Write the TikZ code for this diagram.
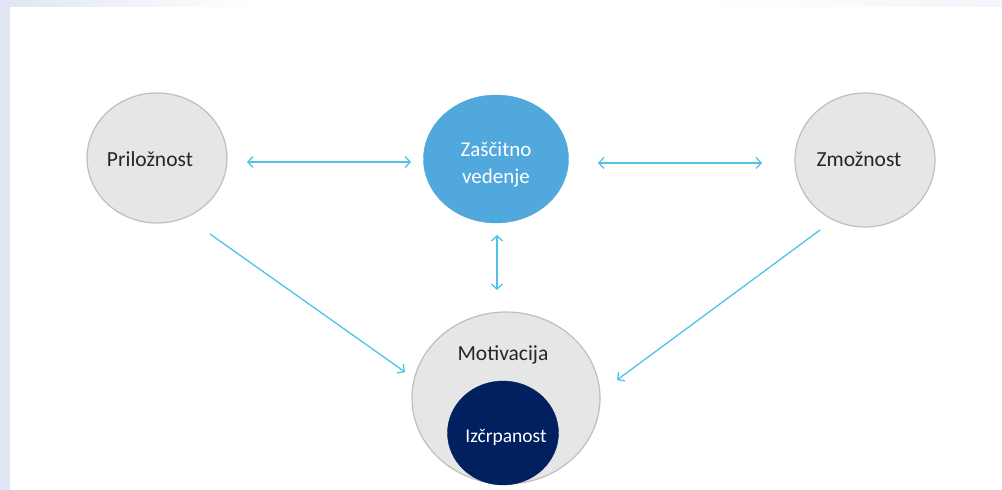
\documentclass[tikz,border=0pt]{standalone}
\usepackage{fontspec}
\setmainfont{Carlito}
\usetikzlibrary{shapes.geometric,arrows.meta}
\definecolor{circgray}{HTML}{E7E6E6}
\definecolor{circline}{HTML}{BFBFBF}
\definecolor{zblue}{HTML}{50A8DC}
\definecolor{navy}{HTML}{002060}
\definecolor{arrblue}{HTML}{4FC4E8}
\definecolor{bgstrip}{HTML}{DFE5F2}
\definecolor{txt}{HTML}{262626}
\tikzset{
  graycirc/.style={ellipse, draw=circline, line width=1.2pt, fill=circgray, inner sep=0pt},
  bluecirc/.style={ellipse, draw=zblue, fill=zblue, inner sep=0pt},
  navycirc/.style={ellipse, draw=navy, fill=navy, inner sep=0pt},
  lbl/.style={inner sep=0pt, text=txt, font=\fontsize{21.5}{25}\selectfont},
  wlbl/.style={inner sep=0pt, text=white, font=\fontsize{21}{25}\selectfont, align=center},
  arr/.style={draw=arrblue, line width=1.3pt, -{Straight Barb[length=5pt,width=11pt,line width=1.3pt]}},
  darr/.style={arr, {Straight Barb[length=5pt,width=11pt,line width=1.3pt]}-{Straight Barb[length=5pt,width=11pt,line width=1.3pt]}}
}
\begin{document}
\begin{tikzpicture}[x=1pt,y=-1pt]
\useasboundingbox (0,0) rectangle (1002,490);
\fill[white] (0,0) rectangle (1002,490);
\shade[left color=bgstrip, right color=white] (0,0) rectangle (250,6);
\shade[left color=white, right color=bgstrip!40] (700,0) rectangle (1002,6);
\fill[bgstrip] (0,0) rectangle (10,490);

\node[graycirc, minimum width=140pt, minimum height=130pt] (pril) at (157,158) {};
\node[lbl] (prilt) at (150,159) {Priložnost};
\node[bluecirc, minimum width=145pt, minimum height=128pt] (zas) at (496,159) {};
\node[wlbl] (zast) at (496,165) {Zaščitno\\[2pt]vedenje};
\node[graycirc, minimum width=140pt, minimum height=134pt] (zmo) at (865,160) {};
\node[lbl] (zmot) at (859,159) {Zmožnost};
\node[graycirc, minimum width=188pt, minimum height=172pt] (mot) at (506,398) {};
\node[lbl] (mott) at (503,355) {Motivacija};
\node[navycirc, minimum width=111pt, minimum height=104pt] (izc) at (503,433) {};
\node[wlbl, font=\fontsize{19.5}{23}\selectfont] (izct) at (506,437) {Izčrpanost};

\coordinate (a1) at (247,162);
\coordinate (a2) at (411,162);
\coordinate (b1) at (598,163);
\coordinate (b2) at (762,163);
\coordinate (c1) at (497,235);
\coordinate (c2) at (497,290);
\coordinate (d1) at (210,234);
\coordinate (d2) at (405,372);
\coordinate (e1) at (820,230);
\coordinate (e2) at (617,380);

\draw[darr] (a1) -- (a2);
\draw[darr] (b1) -- (b2);
\draw[darr, line width=1.1pt] (c1) -- (c2);
\draw[arr] (d1) -- (d2);
\draw[arr] (e1) -- (e2);
\end{tikzpicture}
\end{document}
